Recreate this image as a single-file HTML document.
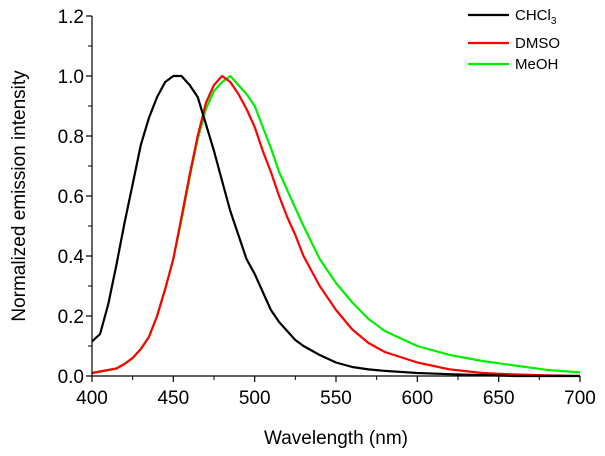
<!DOCTYPE html>
<html><head><meta charset="utf-8">
<style>
body{margin:0;background:#fff;}
svg{display:block;font-family:"Liberation Sans",Arial,sans-serif;}
</style></head>
<body>
<svg id="chart" width="605" height="456" viewBox="0 0 605 456" style="position:absolute;left:0;top:0"></svg>
<script>
const wavelengths = [400,405,410,415,420,425,430,435,440,445,450,455,460,465,470,475,480,485,490,495,500,505,510,515,520,525,530,540,550,560,570,580,600,620,640,660,680,700];
const chcl3 = [0.115,0.14,0.24,0.37,0.51,0.64,0.77,0.86,0.93,0.98,1.0,1.0,0.97,0.93,0.84,0.75,0.65,0.55,0.47,0.39,0.34,0.28,0.22,0.18,0.15,0.12,0.10,0.07,0.045,0.03,0.022,0.017,0.01,0.006,0.003,0.0,0.0,0.0];
const dmso = [0.01,0.015,0.02,0.025,0.04,0.06,0.09,0.13,0.2,0.29,0.39,0.53,0.67,0.80,0.91,0.97,1.0,0.98,0.94,0.89,0.83,0.75,0.68,0.60,0.53,0.47,0.40,0.30,0.22,0.155,0.11,0.08,0.045,0.022,0.01,0.005,0.002,0.0];
const meoh = [0.01,0.015,0.02,0.025,0.04,0.06,0.09,0.13,0.2,0.29,0.39,0.52,0.66,0.79,0.89,0.95,0.98,1.0,0.97,0.94,0.90,0.83,0.76,0.68,0.62,0.56,0.50,0.39,0.31,0.245,0.19,0.15,0.10,0.07,0.05,0.035,0.02,0.012];
const xTicks = [400,450,500,550,600,650,700];
const yTicks = [0.0,0.2,0.4,0.6,0.8,1.0,1.2];

const NS="http://www.w3.org/2000/svg";
const svg=document.getElementById('chart');
const X0=92,X1=580,Y0=376,Y1=16;
const xs=v=>X0+(v-400)/300*(X1-X0);
const ys=v=>Y0-v/1.2*(Y0-Y1);
function mk(tag,attrs,parent){const e=document.createElementNS(NS,tag);for(const k in attrs)e.setAttribute(k,attrs[k]);(parent||svg).appendChild(e);return e;}

const series=[[chcl3,'#000','series-chcl3'],[dmso,'#f00','series-dmso'],[meoh,'#0e0','series-meoh']];
series.slice().reverse().forEach(([d,c,n])=>{
  const pts=wavelengths.map((w,i)=>xs(w).toFixed(1)+','+ys(d[i]).toFixed(1)).join(' ');
  const p=mk('polyline',{points:pts,fill:'none',stroke:c,'stroke-width':2.2,'stroke-linejoin':'round'});
  
  
});

const ax=mk('path',{d:`M${X0},${Y1} V${Y0} H${X1}`,stroke:'#000','stroke-width':1.2,fill:'none'});


xTicks.forEach((t,i)=>{
  mk('line',{x1:xs(t),x2:xs(t),y1:Y0,y2:Y0+6,stroke:'#000','stroke-width':1.2});
  if(i<xTicks.length-1){const m=t+25;mk('line',{x1:xs(m),x2:xs(m),y1:Y0,y2:Y0+4,stroke:'#000','stroke-width':1});}
  const tx=mk('text',{x:xs(t),y:Y0+28,'text-anchor':'middle','font-size':19});
  tx.textContent=t;
  
  
});
yTicks.forEach((t,i)=>{
  mk('line',{x1:X0-6,x2:X0,y1:ys(t),y2:ys(t),stroke:'#000','stroke-width':1.2});
  if(i<yTicks.length-1){mk('line',{x1:X0-4,x2:X0,y1:ys(t+0.1),y2:ys(t+0.1),stroke:'#000','stroke-width':1});}
  const tx=mk('text',{x:X0-8,y:ys(t)+7,'text-anchor':'end','font-size':19});
  tx.textContent=t.toFixed(1);
  
  
});
</script>
<svg style="position:absolute;left:0;top:0" width="605" height="456">
<text x="336" y="444" text-anchor="middle" font-size="19" font-family="Liberation Sans, sans-serif">Wavelength (nm)</text>
<text transform="translate(25,196) rotate(-90)" text-anchor="middle" font-size="19" font-family="Liberation Sans, sans-serif">Normalized emission intensity</text>
<g font-size="15" font-family="Liberation Sans, sans-serif">
<line x1="468" x2="509" y1="15" y2="15" stroke="#000" stroke-width="2.2"/>
<text x="515" y="20">CHCl<tspan font-size="10" dy="4">3</tspan></text>
<line x1="468" x2="509" y1="43" y2="43" stroke="#f00" stroke-width="2.2"/>
<text x="515" y="48">DMSO</text>
<line x1="468" x2="509" y1="64" y2="64" stroke="#0e0" stroke-width="2.2"/>
<text x="515" y="69">MeOH</text>
</g>
</svg>
</body></html>
